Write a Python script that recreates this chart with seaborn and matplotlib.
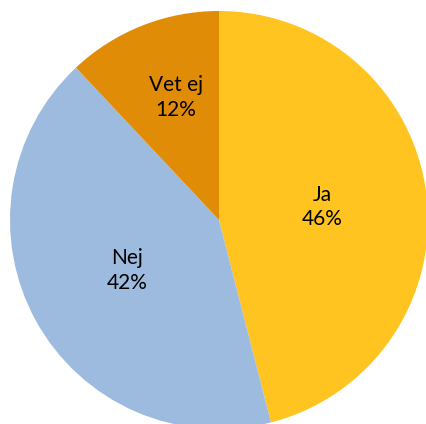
import numpy as np
import matplotlib
matplotlib.use("Agg")
import matplotlib.pyplot as plt
import seaborn as sns

# survey answers
labels = ["Ja", "Nej", "Vet ej"]
shares = [46, 42, 12]
colors = ["#FFC41F", "#9DBBDF", "#E08C06"]
label_dist = [0.5, 0.5, 0.63]

sns.set_theme(style="white")
plt.rcParams["font.family"] = ["Lato", "DejaVu Sans"]

fig = plt.figure(figsize=(4.26, 4.24), dpi=100)
ax = fig.add_axes([10 / 426, -5 / 424, 418 / 426, 418 / 424])

wedges, _ = ax.pie(shares, colors=colors, startangle=90, counterclock=False,
                   radius=1, wedgeprops=dict(linewidth=0))

# two-line labels, placed at each wedge's mid angle
for w, name, val, d in zip(wedges, labels, shares, label_dist):
    ang = np.deg2rad((w.theta1 + w.theta2) / 2)
    x, y = d * np.cos(ang), d * np.sin(ang)
    if name == "Vet ej":
        x += 0.025
    ax.text(x, y, f"{name}\n{val}%", ha="center", va="center",
            fontsize=15, color="black", linespacing=1.3)

ax.set_xlim(-1, 1)
ax.set_ylim(-1, 1)
ax.set_aspect("equal")
ax.axis("off")

fig.savefig("out.png", dpi=100)
